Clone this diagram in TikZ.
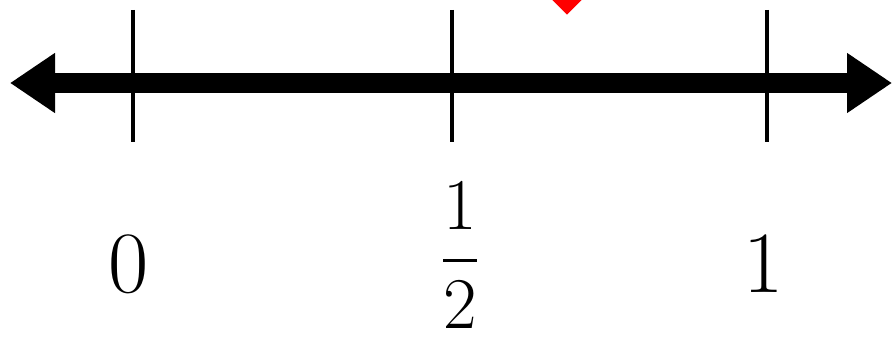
\documentclass[tikz,border=0pt]{standalone}
\usepackage{amsmath}
\usepackage{xcolor}
\usetikzlibrary{arrows.meta, shapes.geometric}
\definecolor{mymark}{RGB}{255,0,0}
\tikzset{
  axisline/.style={line width=5.9pt, color=black,
    {Triangle[length=4.5mm, width=5.7mm]}-{Triangle[length=4.5mm, width=5.7mm]}},
  tickline/.style={line width=1.2pt, color=black},
  numlabel/.style={inner sep=0pt, anchor=base, font=\fontsize{28}{32}\selectfont},
  fraclabel/.style={inner sep=0pt, anchor=base, font=\fontsize{19.5}{24}\selectfont},
  marker/.style={diamond, fill=mymark, inner sep=0pt, minimum size=6mm}
}

\begin{document}
\begin{tikzpicture}
  \useasboundingbox (0,0) rectangle (8.92,-3.41);
  \clip (0,0) rectangle (8.92,-3.41);

  % Number line
  \coordinate (lend) at (0.10,-0.83);
  \coordinate (rend) at (8.92,-0.83);
  \draw[axisline] (lend) -- (rend);

  % Ticks
  \foreach \name/\x in {tzero/1.33, thalf/4.52, tone/7.67} {
    \coordinate (\name top) at (\x,-0.10);
    \coordinate (\name bot) at (\x,-1.42);
    \draw[tickline] (\name top) -- (\name bot);
  }

  % Labels
  \node[numlabel] (lzero) at (1.29,-2.92) {$0$};
  \node[fraclabel] (lhalf) at (4.60,-2.79) {$\dfrac{1}{2}$};
  \node[numlabel] (lone) at (7.64,-2.92) {$1$};

  % Marker
  \node[marker] (pt) at (5.67,0.15) {};
\end{tikzpicture}
\end{document}
